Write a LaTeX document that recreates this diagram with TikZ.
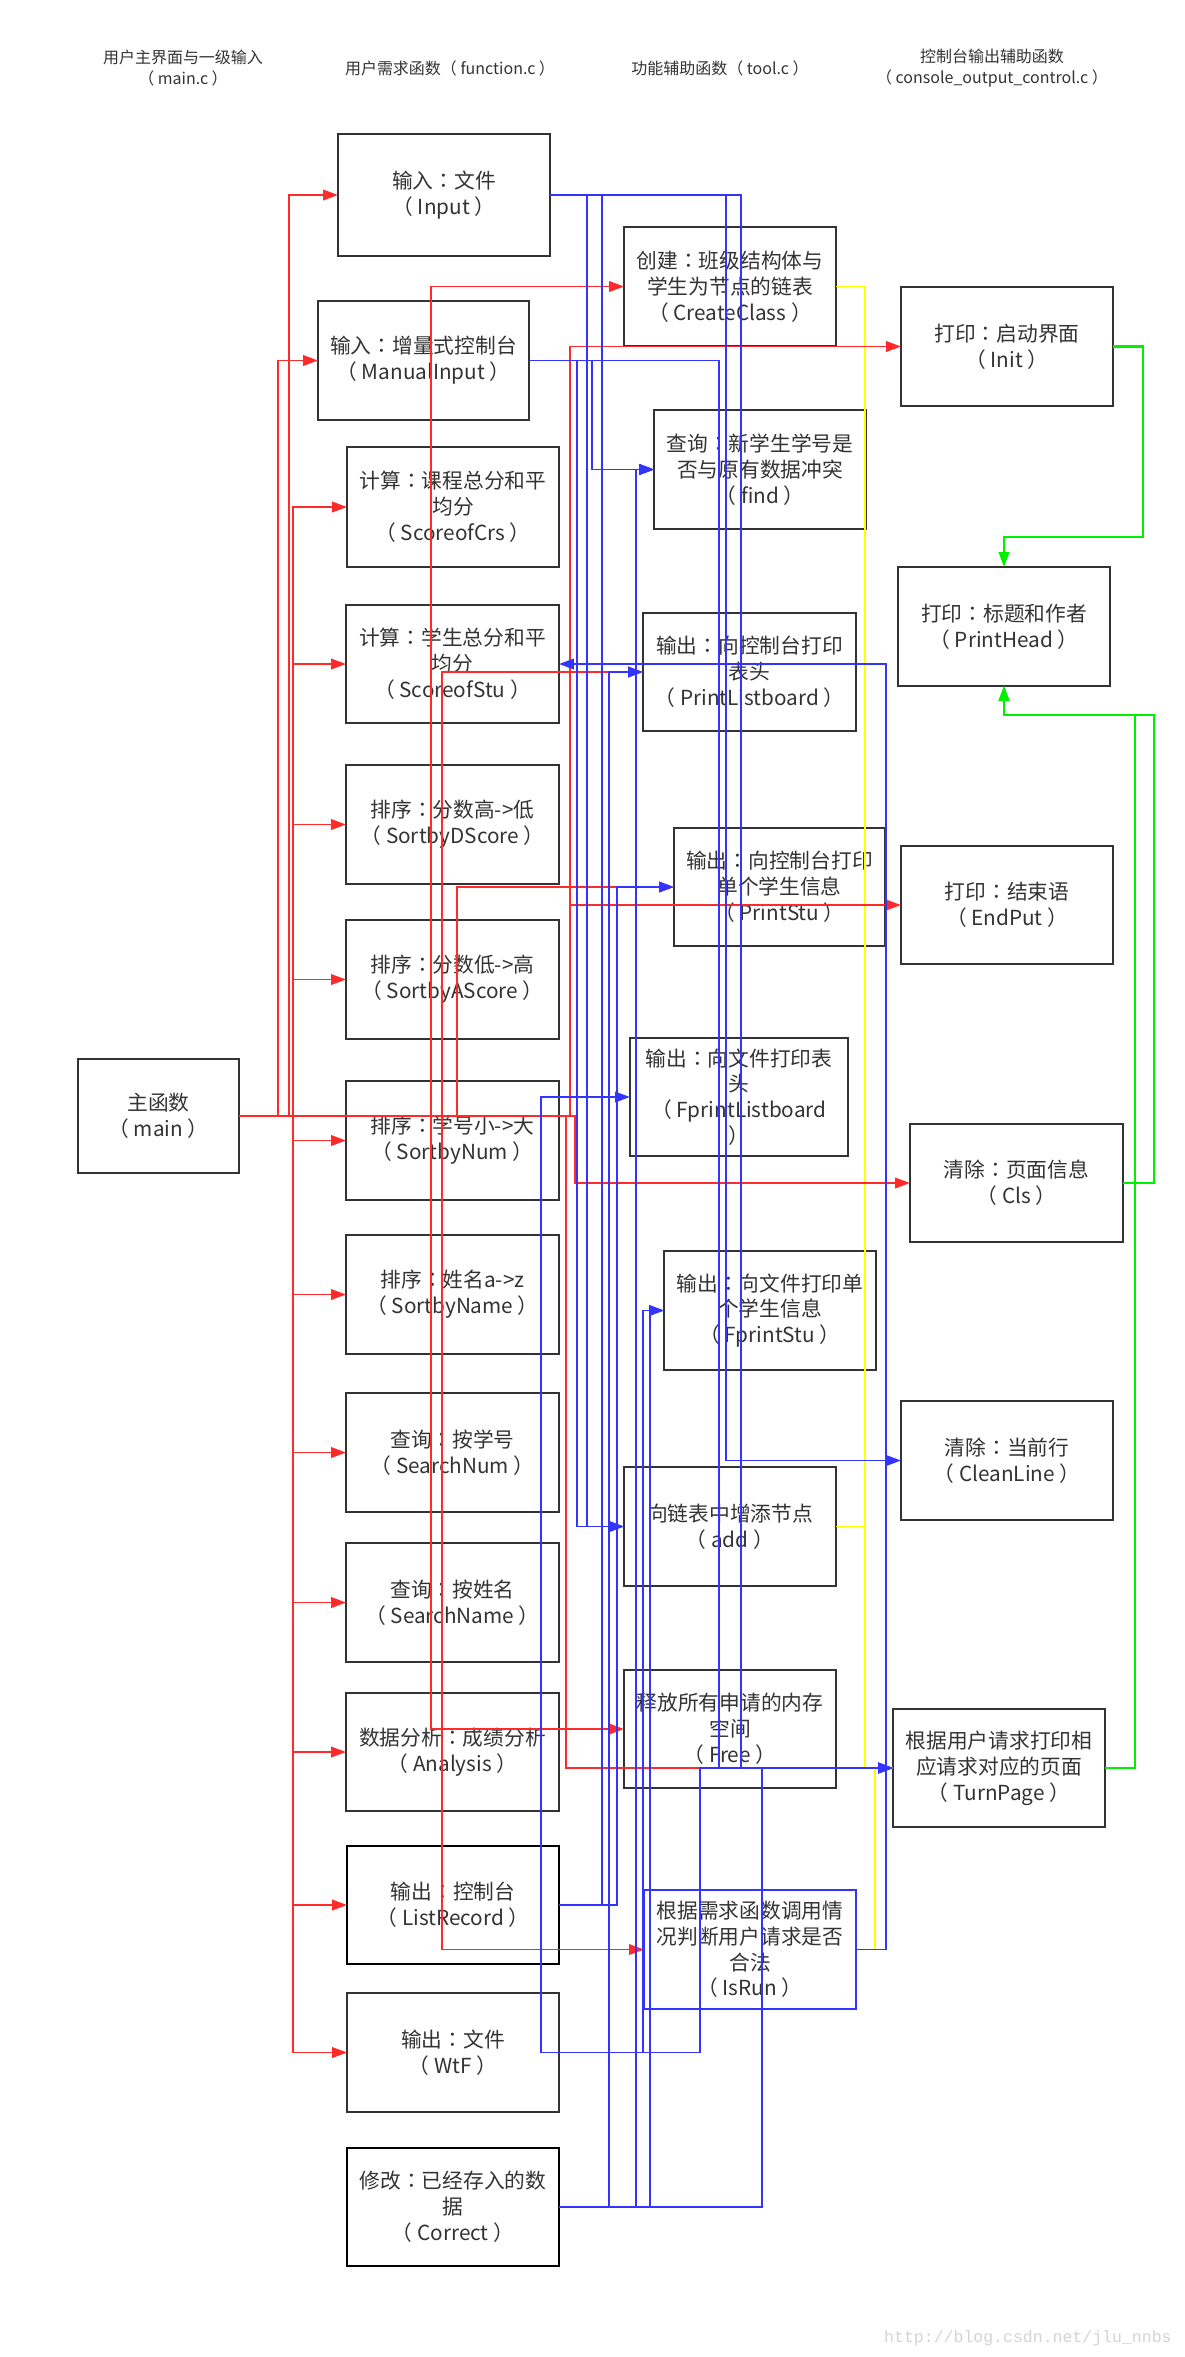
\documentclass[tikz,border=0pt]{standalone}
\usepackage{fontspec}
\setmainfont{Noto Sans CJK SC}
\newfontfamily\tcf{Noto Sans CJK TC}
\newfontfamily\wmfont{Liberation Mono}
\usetikzlibrary{arrows.meta}
\definecolor{rd}{HTML}{FF2A2A}
\definecolor{bu}{HTML}{3434FF}
\definecolor{gn}{HTML}{00F000}
\definecolor{yl}{HTML}{FFFF00}
\definecolor{bd}{HTML}{333333}
\newcommand\cc{{\tcf ：}}
\newcommand\bx[7][]{%
  \pgfmathsetmacro\bw{(#5-#3)*0.02}%
  \pgfmathsetmacro\bh{(#6-#4)*0.02}%
  \node[box,minimum width=\bw cm,minimum height=\bh cm,#1] (#2) at ({(#3+#5)/2},{(#4+#6)/2}) {#7};}
\newcommand\rto[2]{\draw[rl] (main.east) -| (#1,0 |- #2.west) -- (#2.west);}
\newcommand\bto[3]{\draw[bl] (#1.east) -| (#2,0 |- #3.west) -- (#3.west);}
\begin{document}
\begin{tikzpicture}[x=0.02cm,y=-0.02cm,
  box/.style={draw=bd,line width=1.13pt,inner sep=0pt,outer sep=0pt,align=center,
    font=\fontsize{11.8}{14.7}\selectfont,text=bd},
  boxk/.style={draw=black,line width=1.6pt},
  boxb/.style={draw=bu},
  hdr/.style={align=center,font=\fontsize{9.1}{11.9}\selectfont,text=bd,inner sep=0pt},
  conn/.style={line width=1.1pt},
  tip/.style={-{Triangle[length=8.5pt,width=6pt]}},
  rl/.style={conn,draw=rd,tip},
  bl/.style={conn,draw=bu,tip},
  gl/.style={line width=1.2pt,draw=gn,tip},
  yll/.style={conn,draw=yl},
]
\fill[white] (0,0) rectangle (1184,2357);
\useasboundingbox (0,0) rectangle (1184,2357);

% headers
\node[hdr] (h1) at (183,68) {用户主界面与一级输入\\（ main.c ）};
\node[hdr] (h2) at (450,68) {用户需求函数（ function.c ）};
\node[hdr] (h3) at (720,68) {功能辅助函数（ tool.c ）};
\node[hdr] (h4) at (992,68) {控制台输出辅助函数\\（ console\_output\_control.c ）};

% main
\bx{main}{78}{1059}{239}{1173}{主函数\\（ main ）}
% function.c column
\bx{Input}{338}{134}{550}{256}{输入\cc 文件\\（ Input ）}
\bx{ManualInput}{318}{301}{529}{420}{输入\cc 增量式控制台\\（ ManualInput ）}
\bx{ScoreofCrs}{347}{447}{559}{567}{计算\cc 课程总分和平\\均分\\（ ScoreofCrs ）}
\bx{ScoreofStu}{346}{605}{559}{723}{计算\cc 学生总分和平\\均分\\（ ScoreofStu ）}
\bx{SortbyDScore}{346}{765}{559}{884}{排序\cc 分数高->低\\（ SortbyDScore ）}
\bx{SortbyAScore}{346}{920}{559}{1039}{排序\cc 分数低->高\\（ SortbyAScore ）}
\bx{SortbyNum}{346}{1081}{559}{1200}{排序\cc 学号小->大\\（ SortbyNum ）}
\bx{SortbyName}{346}{1235}{559}{1354}{排序\cc 姓名a->z\\（ SortbyName ）}
\bx{SearchNum}{346}{1393}{559}{1512}{查询\cc 按学号\\（ SearchNum ）}
\bx{SearchName}{346}{1543}{559}{1662}{查询\cc 按姓名\\（ SearchName ）}
\bx{Analysis}{346}{1693}{559}{1811}{数据分析\cc 成绩分析\\（ Analysis ）}
\bx[boxk]{ListRecord}{347}{1846}{559}{1964}{输出\cc 控制台\\（ ListRecord ）}
\bx{WtF}{347}{1993}{559}{2112}{输出\cc 文件\\（ WtF ）}
\bx[boxk]{Correct}{347}{2148}{559}{2266}{修改\cc 已经存入的数\\据\\（ Correct ）}
% tool.c column
\bx{CreateClass}{624}{227}{836}{346}{创建\cc 班级结构体与\\学生为节点的链表\\（ CreateClass ）}
\bx{find}{654}{410}{866}{529}{查询\cc 新学生学号是\\否与原有数据冲突\\（ find ）}
\bx{PrintListboard}{643}{613}{856}{731}{输出\cc 向控制台打印\\表头\\（ PrintListboard ）}
\bx{PrintStu}{674}{828}{885}{946}{输出\cc 向控制台打印\\单个学生信息\\（ PrintStu ）}
\bx{FprintListboard}{630}{1038}{848}{1156}{输出\cc 向文件打印表\\头\\（ FprintListboard\\）}
\bx{FprintStu}{664}{1251}{876}{1370}{输出\cc 向文件打印单\\个学生信息\\（ FprintStu ）}
\bx{add}{624}{1467}{836}{1586}{向链表中增添节点\\（ add ）}
\bx{Free}{624}{1670}{836}{1788}{释放所有申请的内存\\空间\\（ Free ）}
\bx[boxb]{IsRun}{644}{1890}{856}{2009}{根据需求函数调用情\\况判断用户请求是否\\合法\\（ IsRun ）}
% console_output_control.c column
\bx{Init}{901}{287}{1113}{406}{打印\cc 启动界面\\（ Init ）}
\bx{PrintHead}{898}{567}{1110}{686}{打印\cc 标题和作者\\（ PrintHead ）}
\bx{EndPut}{901}{846}{1113}{964}{打印\cc 结束语\\（ EndPut ）}
\bx{Cls}{910}{1124}{1123}{1242}{清除\cc 页面信息\\（ Cls ）}
\bx{CleanLine}{901}{1401}{1113}{1520}{清除\cc 当前行\\（ CleanLine ）}
\bx{TurnPage}{893}{1709}{1105}{1827}{根据用户请求打印相\\应请求对应的页面\\（ TurnPage ）}

% yellow connectors
\draw[yll] (CreateClass.east) -| (865,0 |- TurnPage.west) -- (TurnPage.west);
\draw[yll] (add.east) -- (865,0 |- add.east);
\draw[yll] (IsRun.east) -| (875,0 |- TurnPage.west) -- (TurnPage.west);

% red connectors from main
\rto{289}{Input}
\rto{278}{ManualInput}
\rto{293}{ScoreofCrs}
\rto{293}{ScoreofStu}
\rto{293}{SortbyDScore}
\rto{293}{SortbyAScore}
\rto{293}{SortbyNum}
\rto{293}{SortbyName}
\rto{293}{SearchNum}
\rto{293}{SearchName}
\rto{293}{Analysis}
\rto{293}{ListRecord}
\rto{293}{WtF}
\rto{431}{CreateClass}
\rto{431}{Free}
\rto{442}{PrintListboard}
\rto{442}{IsRun}
\rto{457}{PrintStu}
\rto{570}{Init}
\rto{570}{EndPut}
\rto{575}{Cls}
\rto{566}{TurnPage}

% blue connectors
\bto{Input}{587}{add}
\bto{ManualInput}{577}{add}
\bto{ManualInput}{592}{find}
\bto{Input}{602}{find}
\bto{ListRecord}{602}{find}
\bto{Correct}{609}{PrintListboard}
\bto{ListRecord}{617}{PrintStu}
\bto{Correct}{636}{find}
\bto{WtF}{643}{FprintStu}
\bto{Correct}{650}{FprintStu}
\bto{WtF}{700}{TurnPage}
\bto{ManualInput}{719}{TurnPage}
\bto{Input}{726}{CleanLine}
\bto{Input}{741}{TurnPage}
\bto{Correct}{762}{TurnPage}
\draw[bl] (IsRun.east) -| (886,0 |- ScoreofStu.east) -- (ScoreofStu.east);
\draw[bl] (WtF.east) -- (541,0 |- WtF.east) |- (FprintListboard.west);

% green connectors
\draw[gl] (Init.east) -| (1143,537) -| (PrintHead.north);
\draw[gl] (Cls.east) -| (1154,715) -| (PrintHead.south);
\draw[gl] (TurnPage.east) -| (1135,715) -| (PrintHead.south);

% watermark
\node[anchor=east,inner sep=0pt,text=black!17,font=\wmfont\fontsize{9.4}{10}\selectfont] (wm) at (1172,2338) {http://blog.csdn.net/jlu\_nnbs};
\end{tikzpicture}
\end{document}
